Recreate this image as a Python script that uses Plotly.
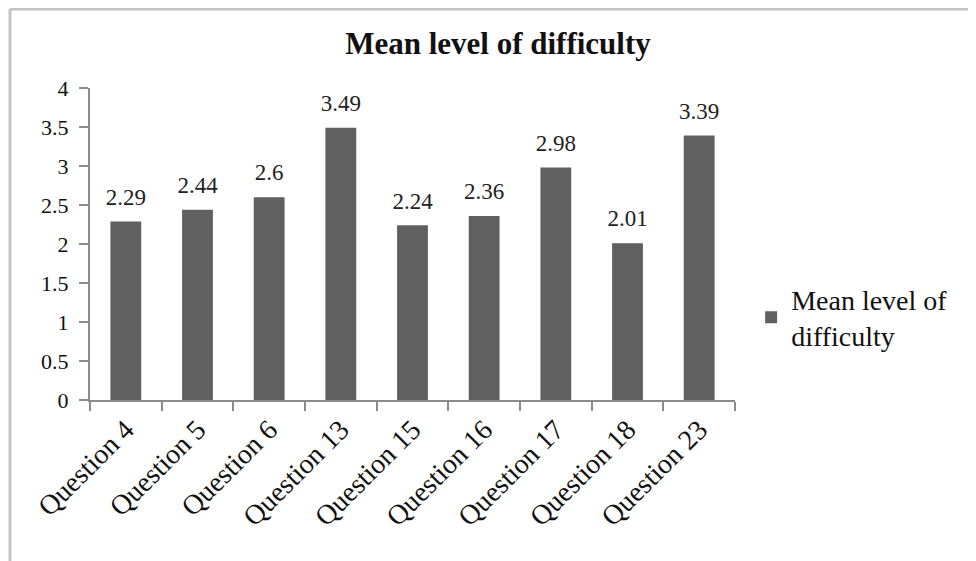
import plotly.graph_objects as go

categories = ["Question 4", "Question 5", "Question 6", "Question 13", "Question 15",
              "Question 16", "Question 17", "Question 18", "Question 23"]
values = [2.29, 2.44, 2.6, 3.49, 2.24, 2.36, 2.98, 2.01, 3.39]
value_labels = ["2.29", "2.44", "2.6", "3.49", "2.24", "2.36", "2.98", "2.01", "3.39"]
series_name = "Mean level of<br>difficulty"
title_text = "Mean level of difficulty"

FONT = "Liberation Serif, Times New Roman, serif"

W, H = 968, 553
ML, MR, MT, MB = 82, 241, 80, 161

fig = go.Figure()
fig.add_trace(go.Bar(
    x=categories, y=values, name=series_name,
    marker=dict(color="#606060", line=dict(width=0)),
    showlegend=True, hoverinfo="x+y",
))
# value labels, floated above bars with an invisible marker for spacing
fig.add_trace(go.Scatter(
    x=categories, y=values, mode="markers+text", text=value_labels,
    textposition="top center", cliponaxis=False,
    marker=dict(size=16, color="rgba(0,0,0,0)"),
    textfont=dict(family=FONT, size=23, color="#222"),
    showlegend=False, hoverinfo="skip",
))

fig.update_layout(
    width=W, height=H,
    paper_bgcolor="white", plot_bgcolor="white",
    margin=dict(l=ML, r=MR, t=MT, b=MB, autoexpand=False),
    bargap=0.57,
    title=dict(text="<b>" + title_text + "</b>", x=(498 - 8) / W, xanchor="center",
               y=1 - (43 - 8) / H, yanchor="middle",
               font=dict(family=FONT, size=31, color="#111")),
    font=dict(family=FONT, size=18, color="#111"),
    showlegend=True,
    legend=dict(x=1.025, y=0.265, xanchor="left", yanchor="middle",
                font=dict(family=FONT, size=28, color="#111"),
                bgcolor="rgba(0,0,0,0)"),
    xaxis=dict(showline=True, linecolor="#8c8c8c", linewidth=2, automargin=False,
               range=[-0.5, len(categories) - 0.5],
               ticks="outside", tickson="boundaries", ticklen=9,
               tickcolor="#8c8c8c", tickwidth=2, tickangle=-45,
               tickfont=dict(family=FONT, size=28, color="#111"),
               showgrid=False, zeroline=False),
    yaxis=dict(range=[0, 4], dtick=0.5, showline=True, linecolor="#8c8c8c",
               linewidth=2, ticks="outside", ticklen=9, tickcolor="#8c8c8c",
               tickwidth=2, showgrid=False, zeroline=False, automargin=False,
               ticklabelstandoff=6,
               tickfont=dict(family=FONT, size=22, color="#111")),
)

# outer chart frame (top and left edges visible in reference)
pw = W - ML - MR
ph = H - MT - MB
x0 = (2 - ML) / pw
ytop = (H - MB - 1) / ph
ybot = (H - MB - H) / ph
fig.add_shape(type="line", xref="paper", yref="paper", x0=x0, x1=(W - ML) / pw,
              y0=ytop, y1=ytop, line=dict(color="#c4c4c4", width=3))
fig.add_shape(type="line", xref="paper", yref="paper", x0=x0, x1=x0,
              y0=ytop, y1=ybot, line=dict(color="#c4c4c4", width=3))

fig.write_html("out.html")
